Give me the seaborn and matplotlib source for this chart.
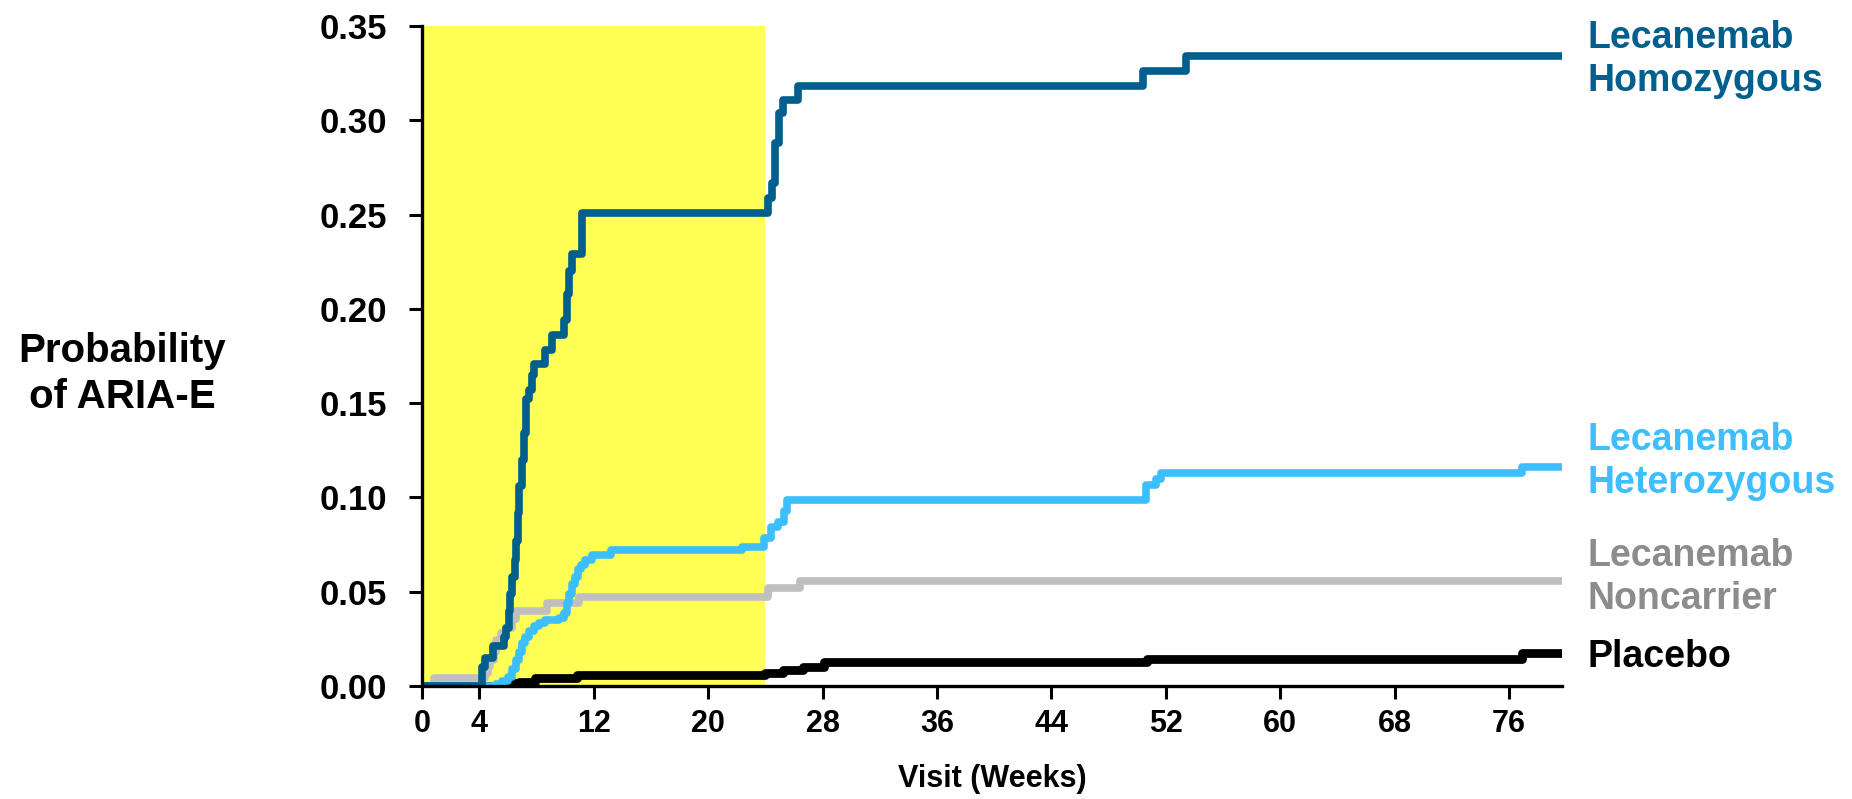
import matplotlib
matplotlib.use("Agg")
import matplotlib.pyplot as plt
import seaborn as sns
import pandas as pd

# ---- data (weeks, cumulative probability; step functions) ----
homo_t = [0, 4.17, 4.4, 4.97, 5.75, 5.9, 6.05, 6.15, 6.3, 6.5, 6.6, 6.7, 6.8, 7.0, 7.15, 7.3,
          7.5, 7.7, 7.85, 8.6, 9.1, 9.9, 10.1, 10.25, 10.5, 11.15, 24.2, 24.45, 24.7, 24.95,
          25.2, 26.3, 50.4, 53.4, 79.7]
homo_v = [0, 0.010, 0.015, 0.021, 0.026, 0.031, 0.040, 0.049, 0.058, 0.067, 0.077, 0.092, 0.106,
          0.120, 0.134, 0.152, 0.157, 0.165, 0.171, 0.178, 0.186, 0.194, 0.208, 0.220, 0.229,
          0.251, 0.259, 0.267, 0.288, 0.304, 0.311, 0.318, 0.326, 0.334, 0.334]

het_t = [0, 5.2, 5.6, 6.0, 6.3, 6.6, 6.8, 6.96, 7.2, 7.5, 7.8, 8.2, 8.6, 9.6, 9.9, 10.1, 10.3,
         10.5, 10.7, 10.9, 11.1, 11.4, 11.85, 13.2, 22.4, 23.9, 24.4, 24.9, 25.3, 25.5, 50.6,
         51.3, 51.65, 76.9, 79.7]
het_v = [0, 0.001, 0.0025, 0.005, 0.009, 0.014, 0.018, 0.023, 0.026, 0.029, 0.032, 0.0335,
         0.035, 0.036, 0.0387, 0.044, 0.049, 0.054, 0.058, 0.062, 0.064, 0.067, 0.0695, 0.072,
         0.0739, 0.0785, 0.0845, 0.087, 0.093, 0.0986, 0.1066, 0.110, 0.113, 0.1163, 0.1163]

non_t = [0, 0.8, 4.4, 4.6, 4.75, 5.0, 5.2, 5.5, 5.9, 6.3, 6.6, 8.7, 11.0, 24.2, 26.4, 79.7]
non_v = [0, 0.0042, 0.007, 0.0105, 0.0138, 0.018, 0.0244, 0.028, 0.031, 0.0355, 0.040, 0.044,
         0.0474, 0.052, 0.0555, 0.0555]

pla_t = [0, 6.3, 6.8, 7.9, 10.8, 24.0, 25.2, 26.6, 28.1, 50.7, 76.9, 79.7]
pla_v = [0, 0.0015, 0.0023, 0.0042, 0.0058, 0.0069, 0.0085, 0.0102, 0.0127, 0.0145, 0.0175, 0.0175]

series_names = ["Lecanemab\nHomozygous", "Lecanemab\nHeterozygous",
                "Lecanemab\nNoncarrier", "Placebo"]
x_ticks = [0, 4, 12, 20, 28, 36, 44, 52, 60, 68, 76]
y_ticks = [0.00, 0.05, 0.10, 0.15, 0.20, 0.25, 0.30, 0.35]

# ---- style ----
sns.set_theme(style="ticks")
plt.rcParams["font.family"] = ["Liberation Sans", "DejaVu Sans"]
plt.rcParams["font.weight"] = "bold"
plt.rcParams["text.color"] = "black"
plt.rcParams["axes.labelcolor"] = "black"
plt.rcParams["xtick.color"] = "black"
plt.rcParams["ytick.color"] = "black"

c_homo = "#005F8C"
c_het = "#3DBFFF"
c_non = "#BFBFBF"
c_non_txt = "#8C8C8C"
c_pla = "#000000"

fig = plt.figure(figsize=(18.52, 7.99), dpi=100)
ax = fig.add_axes([0.2279, 0.1414, 0.6156, 0.8260])

ax.axvspan(0, 24, color="#FFFF55", zorder=0, lw=0)

def draw(t, v, color, lw, z):
    df = pd.DataFrame({"t": t, "v": v})
    sns.lineplot(data=df, x="t", y="v", ax=ax, color=color, lw=lw,
                 drawstyle="steps-post", estimator=None, errorbar=None,
                 sort=False, zorder=z, solid_joinstyle="round", solid_capstyle="butt")

draw(non_t, non_v, c_non, 5.5, 2)
draw(pla_t, pla_v, c_pla, 6.3, 3)
draw(het_t, het_v, c_het, 5.5, 4)
draw(homo_t, homo_v, c_homo, 5.5, 5)

ax.set_xlim(0, 79.7)
ax.set_ylim(0, 0.35)
ax.set_xticks(x_ticks)
ax.set_yticks(y_ticks)
ax.set_yticklabels([f"{y:.2f}" for y in y_ticks], fontsize=25, fontweight="bold")
ax.set_xticklabels([str(x) for x in x_ticks], fontsize=22, fontweight="bold")
ax.tick_params(axis="y", length=9.5, width=2.2, pad=16, colors="black")
ax.tick_params(axis="x", length=9.5, width=2.2, pad=7, colors="black")
for s in ["top", "right"]:
    ax.spines[s].set_visible(False)
for s in ["left", "bottom"]:
    ax.spines[s].set_linewidth(2.4)
    ax.spines[s].set_color("black")
    ax.spines[s].set_zorder(6)

ax.set_xlabel("Visit (Weeks)", fontsize=22, fontweight="bold", labelpad=18, color="black")
ax.set_ylabel("")

fig.text(122 / 1852, 1 - 374 / 799, "Probability\nof ARIA-E", ha="center", va="center",
         fontsize=29, fontweight="bold", linespacing=1.25, color="black")

label_y = [0.3325, 0.119, 0.0575, 0.0154]
label_c = [c_homo, c_het, c_non_txt, c_pla]
for name, yv, col in zip(series_names, label_y, label_c):
    ax.text(81.5, yv, name, color=col, fontsize=27, fontweight="bold", ha="left",
            va="center", linespacing=1.25, clip_on=False)

fig.savefig("out.png", dpi=100)
